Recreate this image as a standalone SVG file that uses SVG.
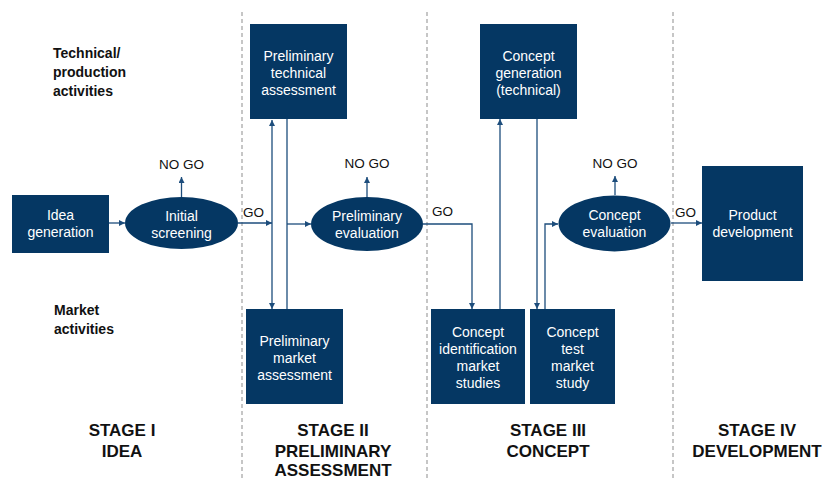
<svg xmlns="http://www.w3.org/2000/svg" width="822" height="479" viewBox="0 0 822 479">
<style>
.box{fill:#053763}
.nt{font-family:"Liberation Sans",Arial,sans-serif;font-size:14px;fill:#ffffff;text-anchor:middle}
.lbl{font-family:"Liberation Sans",Arial,sans-serif;font-size:13.5px;fill:#111111}
.hd{font-family:"Liberation Sans",Arial,sans-serif;font-size:14px;font-weight:bold;fill:#111111}
.st{font-family:"Liberation Sans",Arial,sans-serif;font-size:17px;font-weight:bold;fill:#111111;text-anchor:middle}
.c{fill:none;stroke:#1d4d7c;stroke-width:1.3}
.div{stroke:#a8a8a8;stroke-width:1.3;stroke-dasharray:4,3}
</style>
<defs>
<marker id="ah" viewBox="0 0 8 8" refX="8" refY="4" markerWidth="6" markerHeight="6" orient="auto-start-reverse" markerUnits="userSpaceOnUse">
<path d="M0,0 L8,4 L0,8 z" fill="#1d4d7c"/>
</marker>
</defs>
<rect width="822" height="479" fill="#ffffff"/>
<g id="dividers">
<line class="div" x1="242" y1="12" x2="242" y2="479"/>
<line class="div" x1="427" y1="12" x2="427" y2="479"/>
<line class="div" x1="673" y1="12" x2="673" y2="479"/>
</g>
<g id="row-labels">
<text class="hd" x="53" y="58">Technical/</text>
<text class="hd" x="53" y="77">production</text>
<text class="hd" x="53" y="96">activities</text>
<text class="hd" x="54" y="315">Market</text>
<text class="hd" x="54" y="334">activities</text>
</g>
<g id="stage-labels">
<text class="st" x="122" y="436">STAGE I</text>
<text class="st" x="122" y="457">IDEA</text>
<text class="st" x="333" y="436">STAGE II</text>
<text class="st" x="333" y="457">PRELIMINARY</text>
<text class="st" x="333" y="476">ASSESSMENT</text>
<text class="st" x="548" y="436">STAGE III</text>
<text class="st" x="548" y="457">CONCEPT</text>
<text class="st" x="757" y="436">STAGE IV</text>
<text class="st" x="757" y="457">DEVELOPMENT</text>
</g>
<g id="connectors">
<line class="c" x1="109" y1="223" x2="125" y2="223" marker-end="url(#ah)"/>
<line class="c" x1="181.5" y1="197" x2="181.5" y2="177" marker-end="url(#ah)"/>
<line class="c" x1="238" y1="223" x2="272" y2="223" marker-end="url(#ah)"/>
<line class="c" x1="272" y1="120" x2="272" y2="309" marker-start="url(#ah)" marker-end="url(#ah)"/>
<line class="c" x1="287" y1="119" x2="287" y2="309"/>
<line class="c" x1="287" y1="224" x2="311" y2="224" marker-end="url(#ah)"/>
<line class="c" x1="367" y1="197" x2="367" y2="177" marker-end="url(#ah)"/>
<polyline class="c" points="423,224 472,224 472,309" marker-end="url(#ah)"/>
<line class="c" x1="500" y1="309" x2="500" y2="119" marker-end="url(#ah)"/>
<line class="c" x1="537" y1="119" x2="537" y2="309" marker-end="url(#ah)"/>
<polyline class="c" points="545,309 545,224 558,224" marker-end="url(#ah)"/>
<line class="c" x1="615" y1="195" x2="615" y2="176" marker-end="url(#ah)"/>
<line class="c" x1="671" y1="223" x2="702" y2="223" marker-end="url(#ah)"/>
<text class="lbl" x="181.5" y="169" text-anchor="middle">NO GO</text>
<text class="lbl" x="243" y="217">GO</text>
<text class="lbl" x="367" y="168" text-anchor="middle">NO GO</text>
<text class="lbl" x="432" y="216">GO</text>
<text class="lbl" x="615" y="168" text-anchor="middle">NO GO</text>
<text class="lbl" x="675" y="217">GO</text>
</g>
<g id="idea-generation">
<rect class="box" x="12" y="195" width="97" height="58"/>
<text class="nt" x="60.5" y="220">Idea</text>
<text class="nt" x="60.5" y="237">generation</text>
</g>
<g id="initial-screening">
<ellipse class="box" cx="181.5" cy="223" rx="56.5" ry="26"/>
<text class="nt" x="181.5" y="221">Initial</text>
<text class="nt" x="181.5" y="238">screening</text>
</g>
<g id="prelim-technical">
<rect class="box" x="250" y="24" width="97" height="95"/>
<text class="nt" x="298.5" y="61">Preliminary</text>
<text class="nt" x="298.5" y="78">technical</text>
<text class="nt" x="298.5" y="95">assessment</text>
</g>
<g id="prelim-market">
<rect class="box" x="246" y="309" width="97" height="95"/>
<text class="nt" x="294.5" y="346">Preliminary</text>
<text class="nt" x="294.5" y="363">market</text>
<text class="nt" x="294.5" y="380">assessment</text>
</g>
<g id="prelim-evaluation">
<ellipse class="box" cx="367" cy="224" rx="56" ry="27"/>
<text class="nt" x="367" y="221">Preliminary</text>
<text class="nt" x="367" y="238">evaluation</text>
</g>
<g id="concept-generation">
<rect class="box" x="480" y="24" width="97" height="95"/>
<text class="nt" x="528.5" y="61">Concept</text>
<text class="nt" x="528.5" y="78">generation</text>
<text class="nt" x="528.5" y="95">(technical)</text>
</g>
<g id="concept-identification">
<rect class="box" x="431" y="309" width="94" height="95"/>
<text class="nt" x="478" y="337">Concept</text>
<text class="nt" x="478" y="354">identification</text>
<text class="nt" x="478" y="371">market</text>
<text class="nt" x="478" y="388">studies</text>
</g>
<g id="concept-test">
<rect class="box" x="530" y="309" width="85" height="95"/>
<text class="nt" x="572.5" y="337">Concept</text>
<text class="nt" x="572.5" y="354">test</text>
<text class="nt" x="572.5" y="371">market</text>
<text class="nt" x="572.5" y="388">study</text>
</g>
<g id="concept-evaluation">
<ellipse class="box" cx="614.5" cy="223.5" rx="56" ry="28"/>
<text class="nt" x="614.5" y="220">Concept</text>
<text class="nt" x="614.5" y="237">evaluation</text>
</g>
<g id="product-development">
<rect class="box" x="702" y="166" width="101" height="115"/>
<text class="nt" x="752.5" y="220">Product</text>
<text class="nt" x="752.5" y="237">development</text>
</g>
</svg>
